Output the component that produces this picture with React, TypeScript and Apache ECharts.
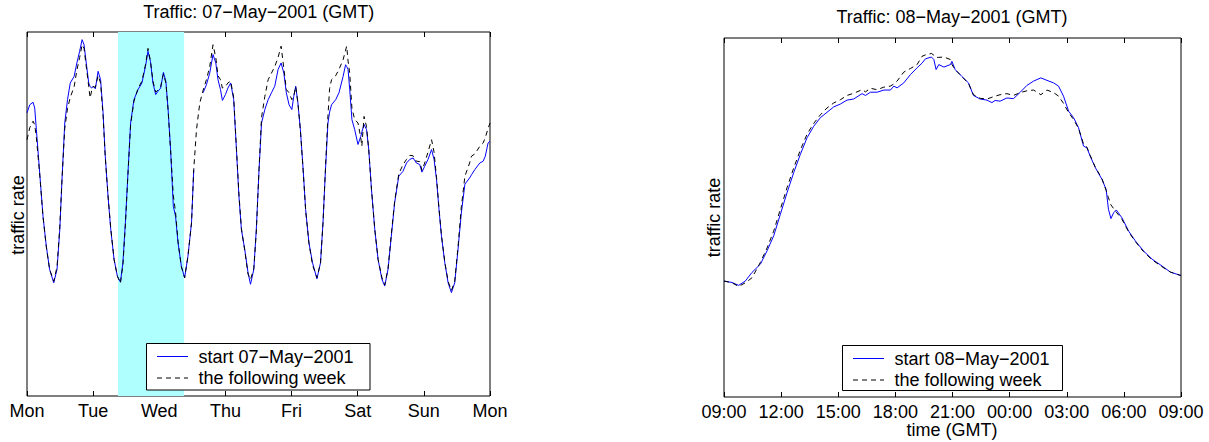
import React, { useEffect, useRef } from "react";
import * as echarts from "echarts";

// ---------- data ----------
const dayLabels = ["Mon", "Tue", "Wed", "Thu", "Fri", "Sat", "Sun", "Mon"];
const timeLabels = ["09:00", "12:00", "15:00", "18:00", "21:00", "00:00", "03:00", "06:00", "09:00"];

const leftTitle = "Traffic: 07\u2212May\u22122001 (GMT)";
const rightTitle = "Traffic: 08\u2212May\u22122001 (GMT)";
const leftSeriesName = "start 07\u2212May\u22122001";
const rightSeriesName = "start 08\u2212May\u22122001";
const followName = "the following week";
const yName = "traffic rate";
const xNameRight = "time (GMT)";

// highlighted day (hours from Monday 00:00)
const bandRange = [33, 57];

// left plot: hours since Monday 00:00
const leftHours = [
  0, 1, 2.2, 2.8, 3.4, 4.6, 5.8, 7, 8.2, 9.7, 10.9, 11.9, 12.7, 13.7, 14.7, 15.7, 17.1, 18.1, 19.1, 20, 20.7, 21.5, 22.4, 22.9, 23.5,
  24, 24.8, 25.8, 26.7, 27.6, 28.4, 29.4, 30.4, 31.6, 32.8, 33.9, 34.8, 35.7, 36.7, 37.6, 38.8, 40.3, 41.7, 43, 43.9, 44.8, 45.7,
  46.7, 47.5, 48.5, 49.5, 50.4, 51.2, 52.1, 53.1, 53.9, 54.8, 56, 57.2, 58.4, 59.7, 60.5, 61.5, 62.7, 63.9, 65.1, 66.3, 67.5, 68.5,
  69.3, 70.2, 70.9, 72, 72.9, 73.9, 75, 76, 76.9, 77.8, 79, 80.2, 81.1, 82.3, 83.2, 84.2, 85.1, 86.3, 87.5, 88.7, 89.9, 91.1, 92.2,
  93.2, 94.1, 95.1, 96.1, 96.8, 97.5, 98.3, 99.2, 100.2, 101.1, 102.3, 103.6, 105.2, 106.5, 107.4, 108.3, 109.2, 109.8, 110.5, 112,
  113.2, 114.7, 115.6, 116, 116.5, 117.1, 117.9, 118.9, 120.1, 121.1, 121.5, 122.3, 123.2, 124, 125, 126.2, 127.4, 128.8, 129.8,
  131, 132.2, 133.4, 134.9, 136.4, 137.7, 138.9, 140.1, 141.3, 142.5, 143.3, 144.3, 145.5, 146.8, 147.7, 148.6, 149.5, 150.4,
  151.6, 152.8, 154, 155.2, 156.4, 157.6, 158.9, 160.6, 161.3, 162.5, 164.3, 165.5, 166.3, 167.3, 168,
];
const leftStart = [
  77.8, 80.0, 80.7, 79.1, 73.2, 61.3, 49.4, 41.2, 34.8, 31.1, 34.8, 45.7, 59.5, 75.0, 81.4, 86.0, 87.8, 91.5, 94.7, 97.9, 96.5, 91.5, 86.0, 85.0, 84.6,
  85.1, 84.4, 89.2, 86.9, 77.8, 65.9, 54.9, 45.7, 37.5, 32.9, 31.3, 36.6, 47.6, 62.2, 75.0, 81.4, 84.2, 86.0, 90.6, 94.7, 91.9, 86.0,
  82.8, 83.7, 84.6, 88.9, 86.4, 78.7, 67.7, 52.1, 49.4, 42.1, 35.7, 32.5, 38.4, 47.6, 62.2, null, null, 83.3, 85.5, 88.7, 93.8, 91.5,
  86.9, 84.2, 81.2, 82.8, 84.6, 86.0, 81.4, 67.7, 54.9, 45.7, 40.3, 33.9, 30.7, 34.8, 45.7, 62.2, 75.0, 78.7, 81.4, 83.3, 85.1, 89.7, 91.5,
  88.7, 83.3, 80.0, 78.7, 82.3, 85.1, 80.5, 73.2, 62.2, 51.2, 42.1, 36.6, 32.2, 36.6, 47.6, 62.2, 75.0, 78.0, 80.0, 81.4,
  83.3, 87.8, 91.0, 90.5, 89.7, 84.2, 75.9, 73.2, 69.1, 71.3, 72.5, 74.6, 73.2, 67.7, 56.7, 45.7, 37.5, 32.0, 30.2,
  34.8, 43.9, 53.1, 60.4, 61.7, 64.0, 65.0, 65.4, 64.0, 63.6, 61.5, 63.1, 65.0, 67.7, 65.0, 59.5, 51.2, 43.9,
  36.6, 31.1, 28.4, 31.1, 40.3, 50.3, 58.2, 59.9, 60.8, 62.2, 64.0, 64.5, 65.9, 69.5, 70.0,
];
const leftFollow = [
  70.4, 73.7, 75.5, 74.5, 71.0, 61.0, 49.4, 41.0, 34.8, 31.5, 35.5, 46.5, 59.5, 73.5, 79.0, 82.0, 85.0, 89.5, 93.0, 96.5, 95.5, 90.5, 85.0, 81.9, 84.0,
  85.0, 84.8, 88.0, 86.0, 77.0, 65.5, 55.0, 46.0, 37.5, 32.9, 31.0, 36.0, 47.0, 62.0, 74.5, 81.0, 84.5, 86.5, 91.0, 95.5, 92.0, 86.5,
  83.5, 84.0, 85.0, 88.5, 86.0, 78.5, 67.5, 55.0, 50.5, 42.5, 35.5, 32.5, 38.4, 47.6, 62.2, 73.2, 80.5, 84.0, 86.9, 90.5, 96.5, 93.0,
  88.0, 86.9, 84.6, 85.0, 86.0, 86.5, 82.0, 68.0, 55.5, 46.0, 40.0, 33.5, 32.0, 35.0, 45.0, 62.5, 76.5, 82.3, 86.9, 88.7, 90.5, 93.0, 96.1,
  90.0, 84.2, 83.3, 81.4, 82.5, 85.0, 80.5, 73.0, 62.0, 51.0, 42.0, 36.0, 32.5, 36.5, 47.5, 62.5, 77.0, 84.5, 86.9, 88.0,
  89.7, 92.4, 95.0, 96.1, 92.0, 88.7, 79.0, 76.0, 75.0, 71.0, 68.6, 76.8, 74.0, 67.7, 56.7, 45.7, 37.5, 32.5, 30.5,
  35.0, 44.5, 53.5, 61.0, 63.5, 65.0, 66.1, 66.0, 64.5, 64.4, 62.0, 64.0, 67.0, 70.4, 67.0, 60.0, 51.5, 44.0,
  36.8, 31.5, 29.0, 31.5, 41.0, 52.0, 60.4, 64.0, 65.9, 66.5, 68.6, 69.5, 71.0, 73.5, 75.0,
];

// right plot: hours since 09:00
const rightHours = [
  0, 0.42, 0.77, 1.12, 1.47, 1.91, 2.26, 2.61, 2.96, 3.31, 3.66, 4.01, 4.36, 4.71, 5.06, 5.41, 5.76, 6.11, 6.46, 6.81, 7.25, 7.43,
  7.69, 8.04, 8.39, 8.74, 8.92, 9.09, 9.44, 9.79, 10.14, 10.4, 10.58, 10.89, 11.02, 11.14, 11.28, 11.55, 11.89, 11.97, 12.14,
  12.49, 12.84, 13.1, 13.45, 13.81, 14.07, 14.24, 14.5, 14.86, 15.2, 15.56, 15.91, 16.26, 16.64, 16.96, 17.31, 17.57, 17.83,
  18.1, 18.36, 18.62, 18.88, 19.06, 19.23, 19.5, 19.85, 20.07, 20.19, 20.32, 20.46, 20.6, 20.9, 21.25, 21.6, 22.03, 22.48, 23,
  23.44, 23.96, 24,
];
const rightStart = [
  32.3, 31.9, 31.1, 32.3, 34.7, 37.0, 40.7, 44.9, 50.9, 56.9, 62.5, 67.6, 72.2, 75.4, 77.8, 79.3, 80.8, 81.6, 82.7, 83.0, 84.5, 84.0,
  84.9, 84.9, 85.5, 85.5, 86.6, 86.1, 87.5, 89.8, 91.7, 93.0, 94.2, 94.7, 94.0, 91.2, 92.6, 91.9, 92.6, 93.5, 91.2,
  89.3, 87.5, 84.0, 83.0, 82.7, 82.0, 82.6, 82.4, 83.3, 83.1, 84.9, 86.8, 88.0, 88.9, 88.2, 87.5, 86.6, 83.8,
  79.6, 77.8, 75.0, 69.9, 69.4, 67.1, 63.9, 60.6, 57.8, 52.3, 49.7, 51.3, 52.1, 49.9, 46.2, 43.5, 40.7, 38.4, 36.5,
  34.8, 33.9, 33.9,
];
const rightFollow = [
  32.3, 31.8, 30.8, 31.8, 33.2, 37.5, 41.5, 46.2, 52.3, 58.3, 63.8, 68.8, 73.2, 76.2, 78.6, 80.5, 81.9, 82.8, 84.0, 84.6, 85.6, 85.0,
  86.0, 85.6, 86.3, 86.6, 87.2, 88.0, 90.5, 91.5, 92.6, 94.9, 95.3, 95.7, 95.2, 94.6, 94.6, 94.7, 94.0, 92.6, 91.2,
  89.3, 87.3, 84.2, 83.2, 83.0, 83.5, 83.8, 84.2, 84.5, 84.0, 84.8, 85.3, 85.5, 84.2, 85.5, 84.8, 83.8, 81.8,
  79.2, 77.3, 74.8, 70.5, 69.6, 67.3, 64.0, 60.8, 57.5, 55.5, 53.5, 52.5, 51.5, 49.5, 46.0, 43.3, 40.5, 38.2, 36.3,
  34.8, 33.9, 33.9,
];

// ---------- styling ----------
const FONT = "'Liberation Sans', Arial, Helvetica, sans-serif";
const FS = 18;
const BLUE = "#0000ff";
const DASH = [5, 4];
const ZG = 100;

const pairs = (xs: number[], ys: (number | null)[]) => xs.map((x, i) => [x, ys[i]]);

function legendGroup(x: number, y: number, w: number, h: number, name1: string, name2: string) {
  return {
    type: "group",
    x,
    y,
    z: ZG,
    children: [
      { type: "rect", z: ZG, shape: { x: 0, y: 0, width: w, height: h }, style: { fill: "#fff", stroke: "#000", lineWidth: 1 } },
      { type: "line", z: ZG + 1, shape: { x1: 10.5, y1: 13, x2: 41.5, y2: 13 }, style: { stroke: BLUE, lineWidth: 1 } },
      { type: "line", z: ZG + 1, shape: { x1: 10.5, y1: 34.5, x2: 41.5, y2: 34.5 }, style: { stroke: "#000", lineWidth: 1, lineDash: DASH } },
      { type: "text", z: ZG + 1, x: 52, y: 13.5, style: { text: name1, fontSize: FS, lineHeight: 16, fontFamily: FONT, fill: "#000", align: "left", verticalAlign: "middle" } },
      { type: "text", z: ZG + 1, x: 52, y: 34.5, style: { text: name2, fontSize: FS, lineHeight: 16, fontFamily: FONT, fill: "#000", align: "left", verticalAlign: "middle" } },
    ],
  };
}

function txt(x: number, y: number, text: string, rot = 0) {
  return {
    type: "text",
    x,
    y,
    z: ZG,
    rotation: rot,
    style: { text, fontSize: FS, lineHeight: 15, fontFamily: FONT, fill: "#000", align: "center", verticalAlign: "middle" },
  };
}

export default function App() {
  const ref = useRef<HTMLDivElement>(null);
  useEffect(() => {
    if (!ref.current) return;
    const chart = echarts.init(ref.current, undefined, { renderer: "svg" });
    const axisCommon = {
      type: "value",
      axisLine: { show: false },
      splitLine: { show: false },
      axisTick: { show: true, inside: true, length: 5, lineStyle: { color: "#000", width: 1 } },
    };
    const bottomLabel = (labels: string[], step: number) => ({
      show: true,
      color: "#000",
      fontSize: FS,
      lineHeight: 15,
      fontFamily: FONT,
      margin: 7,
      showMinLabel: true,
      showMaxLabel: true,
      formatter: (v: number) => labels[Math.round(v / step)] ?? "",
    });
    const option: any = {
      animation: false,
      backgroundColor: "#fff",
      grid: [
        { left: 27, top: 32, width: 463, height: 364, show: true, borderColor: "#000", borderWidth: 1, backgroundColor: "transparent" },
        { left: 724, top: 38, width: 457, height: 359, show: true, borderColor: "#000", borderWidth: 1, backgroundColor: "transparent" },
      ],
      xAxis: [
        { ...axisCommon, gridIndex: 0, position: "bottom", min: 0, max: 168, interval: 24, axisLabel: bottomLabel(dayLabels, 24) },
        { ...axisCommon, gridIndex: 0, position: "top", min: 0, max: 168, interval: 24, axisLabel: { show: false } },
        { ...axisCommon, gridIndex: 1, position: "bottom", min: 0, max: 24, interval: 3, axisLabel: bottomLabel(timeLabels, 3) },
        { ...axisCommon, gridIndex: 1, position: "top", min: 0, max: 24, interval: 3, axisLabel: { show: false } },
      ],
      yAxis: [
        { type: "value", gridIndex: 0, min: 0, max: 100, show: false },
        { type: "value", gridIndex: 1, min: 0, max: 100, show: false },
      ],
      series: [
        {
          type: "line",
          name: "band",
          xAxisIndex: 0,
          yAxisIndex: 0,
          data: [[bandRange[0], 0], [bandRange[1], 0]],
          symbol: "none",
          lineStyle: { opacity: 0, width: 0 },
          silent: true,
          z: 1,
          markArea: {
            silent: true,
            itemStyle: { color: "#afffff", opacity: 1 },
            data: [[{ xAxis: bandRange[0] }, { xAxis: bandRange[1] }]],
          },
        },
        {
          type: "line",
          name: leftSeriesName,
          xAxisIndex: 0,
          yAxisIndex: 0,
          data: pairs(leftHours, leftStart),
          symbol: "none",
          connectNulls: false,
          lineStyle: { color: BLUE, width: 1 },
          z: 3,
        },
        {
          type: "line",
          name: followName,
          xAxisIndex: 0,
          yAxisIndex: 0,
          data: pairs(leftHours, leftFollow),
          symbol: "none",
          lineStyle: { color: "#000", width: 1, type: DASH },
          z: 4,
        },
        {
          type: "line",
          name: rightSeriesName,
          xAxisIndex: 2,
          yAxisIndex: 1,
          data: pairs(rightHours, rightStart),
          symbol: "none",
          lineStyle: { color: BLUE, width: 1 },
          z: 3,
        },
        {
          type: "line",
          name: followName + " ",
          xAxisIndex: 2,
          yAxisIndex: 1,
          data: pairs(rightHours, rightFollow),
          symbol: "none",
          lineStyle: { color: "#000", width: 1, type: DASH },
          z: 4,
        },
      ],
      graphic: [
        txt(258.7, 11.7, leftTitle),
        txt(952, 16.7, rightTitle),
        txt(17.7, 215, yName, Math.PI / 2),
        txt(713.7, 217.5, yName, Math.PI / 2),
        txt(952, 430, xNameRight),
        legendGroup(146.5, 343.5, 223.5, 46.5, leftSeriesName, followName),
        legendGroup(842.5, 345.5, 220, 45, rightSeriesName, followName),
      ],
    };
    chart.setOption(option);
    return () => chart.dispose();
  }, []);
  return (
    <div
      ref={ref}
      style={{ position: "fixed", left: 0, top: 0, width: 1209, height: 442, background: "#fff" }}
    />
  );
}
